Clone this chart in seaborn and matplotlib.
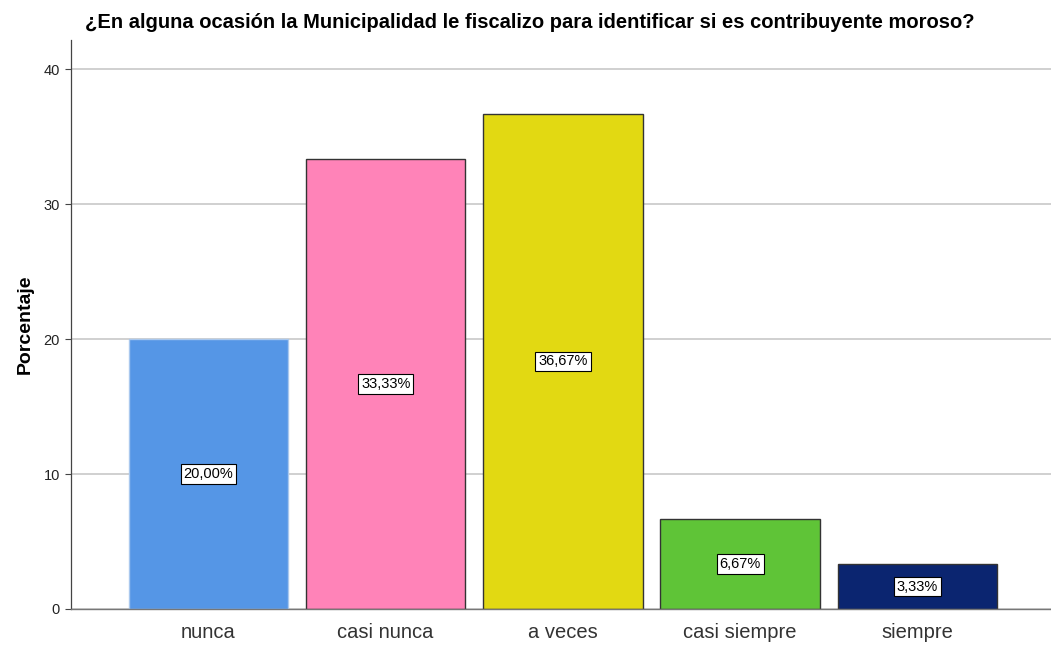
import matplotlib
matplotlib.use("Agg")
import matplotlib.pyplot as plt
import seaborn as sns
import pandas as pd

categories = ["nunca", "casi nunca", "a veces", "casi siempre", "siempre"]
values = [20.00, 33.33, 36.67, 6.67, 3.33]
labels = ["20,00%", "33,33%", "36,67%", "6,67%", "3,33%"]
colors = ["#5596E6", "#FF83B8", "#E2D912", "#5FC437", "#0B2570"]
edges = ["#A9C8EE", "#333333", "#333333", "#333333", "#333333"]
yticks = [0, 10, 20, 30, 40]
title = "¿En alguna ocasión la Municipalidad le fiscalizo para identificar si es contribuyente moroso?"

sns.set_theme(style="white")
plt.rcParams['font.family'] = ['Liberation Sans Narrow', 'Liberation Sans', 'DejaVu Sans']

df = pd.DataFrame({"cat": categories, "val": values})
fig = plt.figure(figsize=(10.51, 6.46), dpi=100)
ax = fig.add_axes([71/1051, 37/646, 1 - 71/1051, (609-40)/646])
ax.set_axisbelow(True)
ax.yaxis.grid(True, color="#C8C8C8", linewidth=1.2)

sns.barplot(data=df, x="cat", y="val", hue="cat", palette=colors, legend=False,
            width=0.9, ax=ax, saturation=1)
for p, ec in zip(ax.patches, edges):
    p.set_edgecolor(ec)
    p.set_linewidth(1.0)

for i, (v, lab) in enumerate(zip(values, labels)):
    ax.text(i, v / 2, lab, ha="center", va="center", fontsize=10.5, color="black",
            bbox=dict(boxstyle="square,pad=0.2", facecolor="white", edgecolor="black", linewidth=0.8))

ax.set_xlim(-0.775, 4.753)
ax.set_ylim(0, 42.15)
ax.set_yticks(yticks)
ax.set_yticklabels([str(t) for t in yticks], fontsize=10.5, color="#222222")
ax.tick_params(axis="y", length=4, color="#444444", width=0.8, pad=4, left=True)
ax.tick_params(axis="x", length=0, labelsize=14.5, labelcolor="#333333", pad=10)
ax.set_xlabel("")
ax.set_ylabel("Porcentaje", fontsize=14, fontweight="bold", labelpad=7, color="black")

for s in ["top", "right"]:
    ax.spines[s].set_visible(False)
ax.spines["left"].set_color("#444444")
ax.spines["bottom"].set_color("#777777")
ax.spines["left"].set_linewidth(0.9)
ax.spines["bottom"].set_linewidth(1.0)

fig.text(530/1051, 1 - 22/646, title, ha="center", va="center", fontsize=14.5, fontweight="bold", color="black")

fig.savefig("out.png", dpi=100)
